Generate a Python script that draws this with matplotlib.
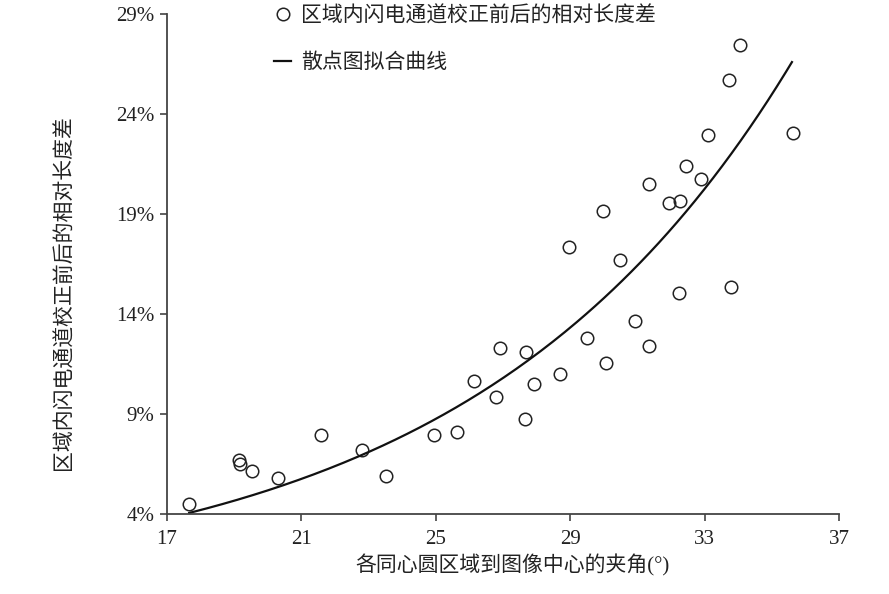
import numpy as np
import matplotlib
matplotlib.use("Agg")
import matplotlib.pyplot as plt

plt.rcParams['font.family'] = ['Liberation Serif', 'Noto Sans CJK SC', 'DejaVu Sans']

angle = [17.67, 19.15, 19.18, 19.55, 20.32, 21.58, 22.82, 23.52, 24.96, 25.64,
         26.13, 26.80, 26.91, 27.66, 27.69, 27.94, 28.71, 29.49, 30.07, 30.93,
         31.35, 32.25, 33.79, 34.06, 33.74, 35.62, 33.10, 32.45, 32.88, 31.36,
         31.94, 32.28, 29.98, 28.96, 30.49]
rel_diff = [4.51, 6.72, 6.53, 6.17, 5.83, 7.98, 7.23, 5.92, 7.98, 8.12,
            10.68, 9.88, 12.33, 8.75, 12.12, 10.52, 11.03, 12.83, 11.57, 13.67,
            12.40, 15.05, 15.38, 27.45, 25.71, 23.07, 22.97, 21.43, 20.77, 20.50,
            19.58, 19.68, 19.18, 17.38, 16.70]
# points
curve_x = [17.67, 20.99, 22.83, 24.99, 26.92, 29.50, 31.29, 32.97, 34.46, 35.60]
curve_y = [4.05, 5.88, 6.85, 8.68, 10.97, 13.88, 16.75, 20.47, 23.72, 26.47]
x_ticks = [17, 21, 25, 29, 33, 37]
y_ticks = [4, 9, 14, 19, 24, 29]
label_points = "区域内闪电通道校正前后的相对长度差"
label_curve = "散点图拟合曲线"
xlabel = "各同心圆区域到图像中心的夹角(°)"
ylabel = "区域内闪电通道校正前后的相对长度差"

# exponential trend line through the curve points
cx = np.array(curve_x)
cy = np.array(curve_y)
b, ln_a = np.polyfit(cx, np.log(cy), 1)
xs = np.linspace(cx.min(), cx.max(), 200)
ys = np.exp(ln_a + b * xs)

W, H = 889, 594
fig = plt.figure(figsize=(W / 100, H / 100), dpi=100)
ax = fig.add_axes([166.7 / W, 1 - 514.3 / H, (839 - 166.7) / W, (514.3 - 14.3) / H])

txt = '#222222'
ax.plot(angle, rel_diff, linestyle='none', marker='o', markersize=9, markerfacecolor='none',
        markeredgecolor='#222222', markeredgewidth=1.1, label=label_points, clip_on=False)
ax.plot(xs, ys, color='#111111', linewidth=1.6, label=label_curve)

ax.set_xlim(17, 37)
ax.set_ylim(4, 29)
ax.set_xticks(x_ticks)
ax.set_xticklabels([str(t) for t in x_ticks])
ax.set_yticks(y_ticks)
ax.set_yticklabels([f"{t}%" for t in y_ticks])
for s in ['top', 'right']:
    ax.spines[s].set_visible(False)
for s in ['left', 'bottom']:
    ax.spines[s].set_color('#444444')
    ax.spines[s].set_linewidth(1.3)
ax.tick_params(axis='both', direction='out', length=5, width=1.2, color='#444444',
               labelsize=15, labelcolor=txt)
ax.tick_params(axis='y', pad=4)
ax.tick_params(axis='x', pad=6)

fig.text(512 / W, 1 - 565 / H, xlabel, ha='center', va='center', fontsize=15, color=txt)
fig.text(65 / W, 1 - 293 / H, ylabel, ha='center', va='center', rotation=90, fontsize=15, color=txt)

leg = ax.legend(loc='upper left', bbox_to_anchor=(270 / W, 1 - 2 / H),
                bbox_transform=fig.transFigure, frameon=False, fontsize=15,
                handlelength=0.8, handletextpad=0.5, labelspacing=1.3,
                borderaxespad=0, borderpad=0.2)
for t in leg.get_texts():
    t.set_color(txt)

fig.savefig('out.png', dpi=100, facecolor='white')
